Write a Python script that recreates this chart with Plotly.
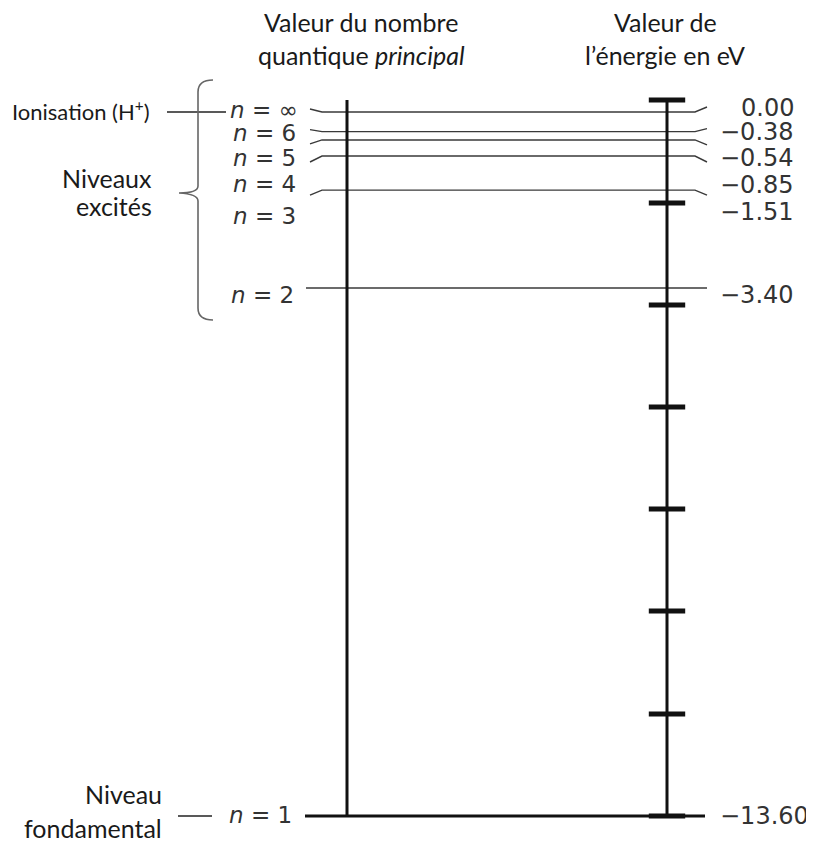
import plotly.graph_objects as go

# ---------------- data ----------------
n_labels = ["∞", "6", "5", "4", "3", "2", "1"]
energies_ev = [0.00, -0.38, -0.54, -0.85, -1.51, -3.40, -13.60]
energy_labels = ["0.00", "−0.38", "−0.54", "−0.85", "−1.51", "−3.40", "−13.60"]
tick_marks_ev = [0.23, -1.76, -3.73, -5.70, -7.67, -9.64, -11.63, -13.60]

header_left = ["Valeur du nombre", "quantique <i>principal</i>"]
header_right = ["Valeur de", "l’énergie en eV"]
excited_text = ["Niveaux", "excités"]
ground_text = ["Niveau", "fondamental"]
ionisation_text = "Ionisation (H<sup>+</sup>)"

# ---------------- geometry (layout only) ----------------
# page has an 8px body margin, so the figure is 806x834 placed at (8, 8);
# all positions below are in window pixels
OFF = 8
W, H = 814, 842
Y0 = 112.0                      # window row of 0 eV
PXE = (816.0 - Y0) / 13.6       # pixels per eV


def ev(py):
    """window pixel row -> eV coordinate of the y axis"""
    return (Y0 - py) / PXE


X_LEFT_AX, X_RIGHT_AX = 347, 667
label_rows_left = [110, 133, 158, 184, 216, 295, 815]
label_x_left = [300, 298, 298, 298, 298, 296, 294]
label_rows_right = [108, 132, 158, 185, 212, 295, 816]
conn_left = [-3, -2, 4, 6, 5]     # pixel offset of connector ends
conn_right = [-5, -3, 5, 6, 5]

LINE_COL = "#3a3a3a"
TXT_COL = "#333333"
DARK = "#1a1a1a"

fig = go.Figure()

# level lines with little slanted connectors
for i, e in enumerate(energies_ev):
    if i < 5:
        xs = [310, 322, 695, 707]
        ys = [e - conn_left[i] / PXE, e, e, e - conn_right[i] / PXE]
        fig.add_trace(go.Scatter(x=xs, y=ys, mode="lines",
                                 line=dict(color=LINE_COL, width=1.4),
                                 hoverinfo="skip", showlegend=False))
    elif i == 5:
        fig.add_trace(go.Scatter(x=[306, 707], y=[e, e], mode="lines",
                                 line=dict(color=LINE_COL, width=1.4),
                                 hoverinfo="skip", showlegend=False))
    else:
        fig.add_trace(go.Scatter(x=[305, 705], y=[e, e], mode="lines",
                                 line=dict(color="#111111", width=3),
                                 hoverinfo="skip", showlegend=False))

# vertical axes
top = max(tick_marks_ev)
bottom = min(energies_ev)
for xa in (X_LEFT_AX, X_RIGHT_AX):
    fig.add_trace(go.Scatter(x=[xa, xa], y=[top, bottom], mode="lines",
                             line=dict(color="#111111", width=3),
                             hoverinfo="skip", showlegend=False))

# tick dashes on the energy axis
fig.add_trace(go.Scatter(x=[X_RIGHT_AX] * len(tick_marks_ev), y=tick_marks_ev,
                         mode="markers",
                         marker=dict(symbol="line-ew", size=26,
                                     line=dict(color="#111111", width=5)),
                         hoverinfo="skip", showlegend=False))

# side pointer lines
fig.add_trace(go.Scatter(x=[167, 226], y=[ev(112), ev(112)], mode="lines",
                         line=dict(color="#222222", width=1.4),
                         hoverinfo="skip", showlegend=False))
fig.add_trace(go.Scatter(x=[178, 212], y=[energies_ev[-1], energies_ev[-1]], mode="lines",
                         line=dict(color="#222222", width=1.4),
                         hoverinfo="skip", showlegend=False))

# brace
bx = 198
path = (f"M 213,{ev(80)} Q {bx},{ev(80)} {bx},{ev(92)} "
        f"L {bx},{ev(186)} Q {bx},{ev(193)} 179,{ev(193)} "
        f"Q {bx},{ev(194)} {bx},{ev(201)} "
        f"L {bx},{ev(308)} Q {bx},{ev(320)} 213,{ev(320)}")
fig.add_shape(type="path", path=path, xref="x", yref="y",
              line=dict(color="#666666", width=1.6))

annotations = []
# n labels
for i, lab in enumerate(n_labels):
    annotations.append(dict(x=label_x_left[i], y=ev(label_rows_left[i]),
                            text=f"<i>n</i> = {lab}", xanchor="right", yanchor="middle",
                            showarrow=False,
                            font=dict(family="DejaVu Sans", size=23, color=TXT_COL)))
# energy labels
for i, lab in enumerate(energy_labels):
    if i < 6:
        annotations.append(dict(x=796, y=ev(label_rows_right[i]), text=lab,
                                xanchor="right", yanchor="middle", showarrow=False,
                                font=dict(family="DejaVu Sans", size=24, color=TXT_COL)))
    else:
        annotations.append(dict(x=718, y=ev(label_rows_right[i]), text=lab,
                                xanchor="left", yanchor="middle", showarrow=False,
                                font=dict(family="DejaVu Sans", size=24, color=TXT_COL)))


def txt(x, py, s, anchor, size):
    return dict(x=x, y=ev(py), text=s, xanchor=anchor, yanchor="middle",
                showarrow=False, font=dict(family="Lato", size=size, color=DARK))


annotations += [
    txt(361, 22, header_left[0], "center", 25),
    txt(361, 55, header_left[1], "center", 25),
    txt(665, 22, header_right[0], "center", 25),
    txt(665, 55, header_right[1], "center", 25),
    txt(152, 110, ionisation_text, "right", 22),
    txt(154, 178, excited_text[0], "right", 25),
    txt(154, 206, excited_text[1], "right", 25),
    txt(164, 794, ground_text[0], "right", 25),
    txt(164, 828, ground_text[1], "right", 25),
]

fig.update_layout(
    width=W - OFF, height=H - OFF,
    margin=dict(l=0, r=0, t=0, b=0),
    paper_bgcolor="white", plot_bgcolor="white",
    xaxis=dict(range=[OFF, W], visible=False, fixedrange=True),
    yaxis=dict(range=[ev(H), ev(OFF)], visible=False, fixedrange=True),
    annotations=annotations,
    showlegend=False,
)

fig.write_html("out.html")
